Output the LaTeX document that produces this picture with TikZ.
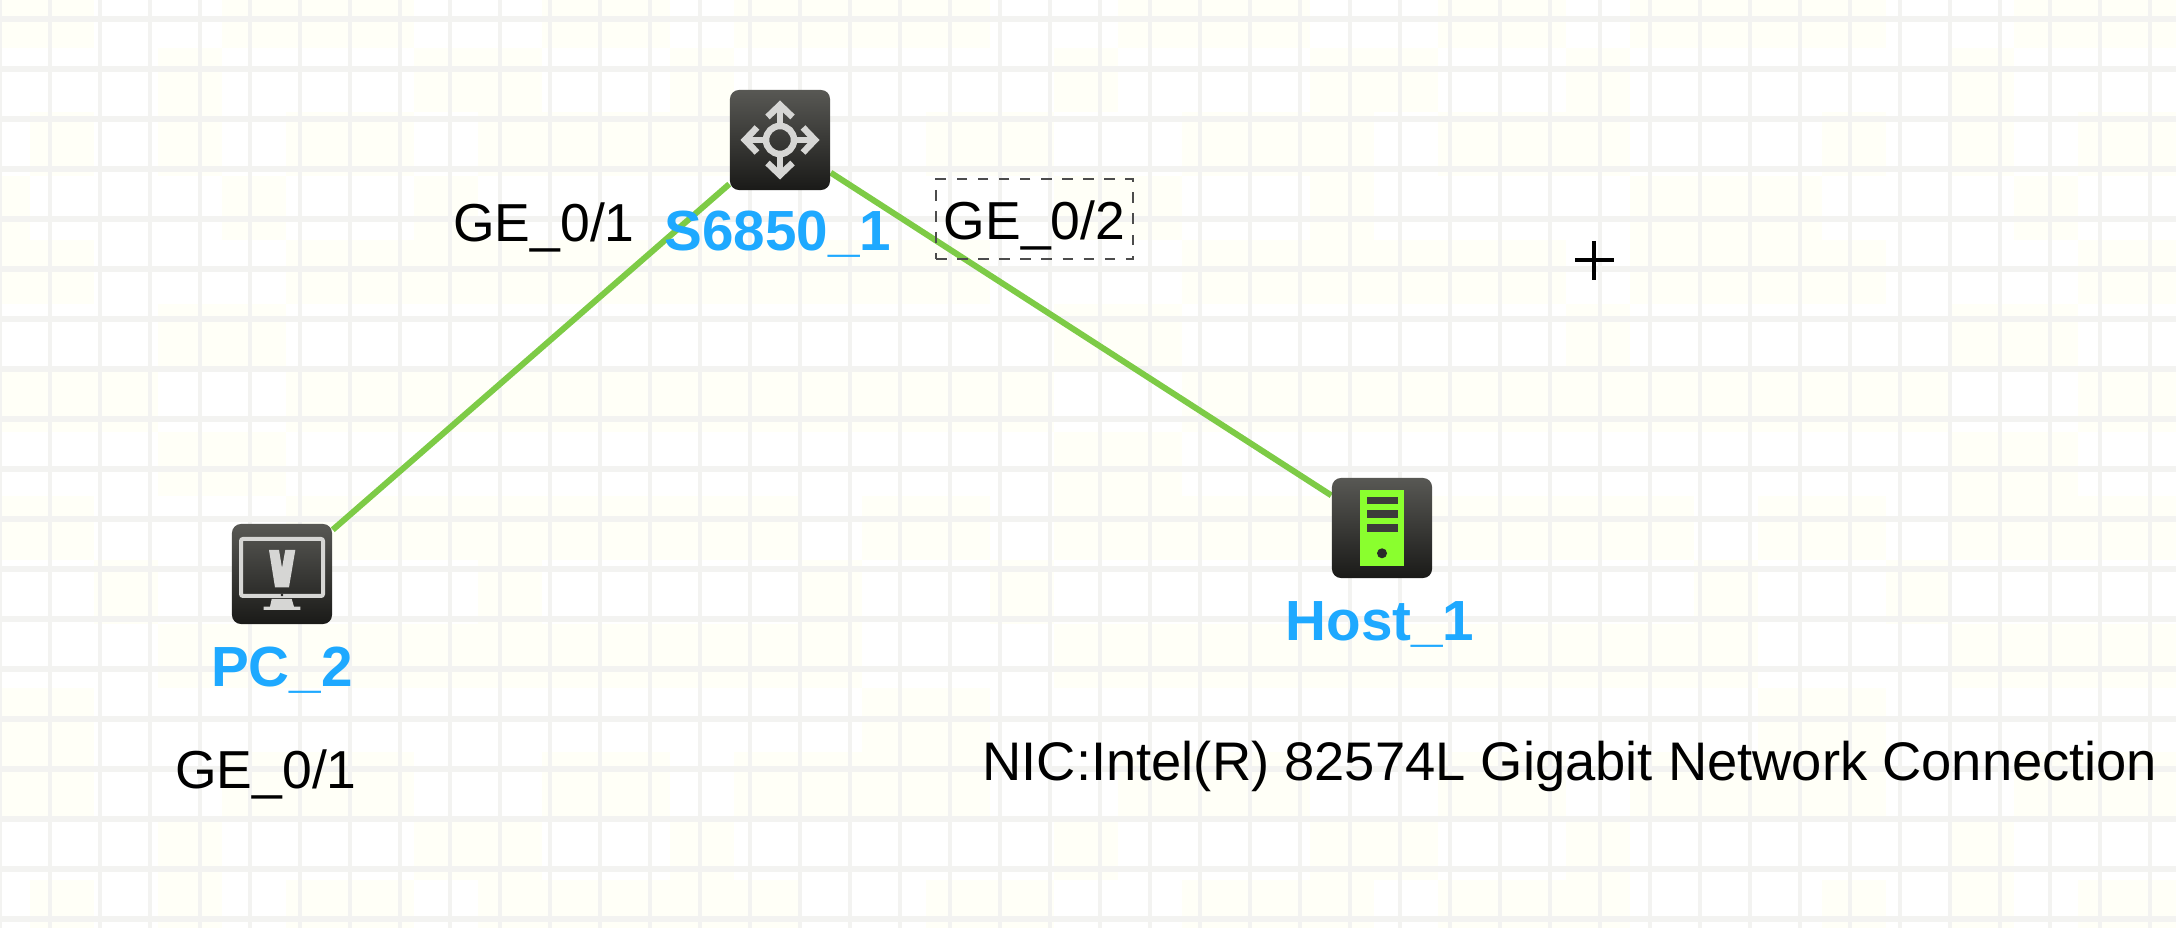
\documentclass[tikz,border=0pt]{standalone}
\usepackage{fontspec}
\setmainfont{Liberation Sans}
\usepackage{xcolor}
\definecolor{LinkGreen}{RGB}{125,203,70}
\definecolor{LabelBlue}{RGB}{30,169,255}
\definecolor{PaperYellow}{RGB}{255,255,247}
\definecolor{GridGrey}{RGB}{243,243,241}
\definecolor{IconTop}{RGB}{88,88,84}
\definecolor{IconBottom}{RGB}{26,26,24}
\definecolor{GlyphGrey}{RGB}{214,214,212}
\definecolor{ServerGreen}{RGB}{138,255,46}
\definecolor{SlotGrey}{RGB}{60,60,58}
\usetikzlibrary{backgrounds}
\tikzset{
  iconbox/.style={rectangle, rounded corners=0.09cm, minimum size=1cm, inner sep=0pt,
    top color=IconTop, bottom color=IconBottom},
  portlabel/.style={anchor=base, inner sep=0pt, text=black, font=\fontsize{15.2}{18}\selectfont},
  devlabel/.style={anchor=base, inner sep=0pt, text=LabelBlue, font=\fontsize{16.1}{18}\selectfont\bfseries},
  linkline/.style={LinkGreen, line width=0.06cm},
  glyph/.style={GlyphGrey, line width=0.065cm, miter limit=10}
}
\begin{document}
\begin{tikzpicture}[x=0.01cm, y=-0.01cm]
    \useasboundingbox (0,0) rectangle (2176,928);

    % Paper and grid
    \begin{scope}[on background layer]
    \fill[white] (0,0) rectangle (2176,928);
    \clip (0,0) rectangle (2176,928);
    \foreach \rowtop/\cells in {
        -16/{-34/94,222/414,542/670,734/990,1118/1310,1438/1566,1630/1886,2014/2176},
        48/{158/222,414/542,670/734,1054/1118,1310/1438,1566/1630,1950/2014},
        112/{30/94,158/222,286/414,478/798,926/1054,1182/1374,1438/1630,1822/1886,1950/2014,2078/2176},
        176/{-34/30,222/286,414/478,1054/1182,1310/1374,1630/1822,2014/2078},
        240/{-34/94,286/990,1182/1566,1630/1886,2078/2176},
        304/{158/286,1054/1182,1566/1630,1950/2078},
        368/{-34/158,286/1054,1182/1950,2078/2176},
        432/{158/286,1054/1182,1950/2078},
        496/{-34/94,286/798,862/990,1054/1694,1758/1886,1950/2176},
        560/{94/158,478/542,798/862,990/1054,1694/1758,1886/1950},
        624/{158/862,1054/1758,1950/2176},
        688/{-34/94,862/990,1758/1886},
        752/{-34/94,222/414,542/670,734/990,1118/1310,1438/1566,1630/1886,2014/2176},
        816/{158/222,414/542,670/734,1054/1118,1310/1438,1566/1630,1950/2014},
        880/{30/94,158/222,286/414,478/798,926/1054,1182/1374,1438/1630,1822/1886,1950/2014,2078/2176}}
    {
        \foreach \xa/\xb in \cells
            \fill[PaperYellow] (\xa,\rowtop) rectangle (\xb,\rowtop+64);
    }
    \foreach \i in {0,50,...,2150}
        \draw[GridGrey, line width=0.04cm] (\i,0) -- (\i,928);
    \foreach \j in {19,69,...,919}
        \draw[GridGrey, line width=0.06cm] (0,\j) -- (2176,\j);
    \end{scope}

    % Devices
    \node[iconbox] (sw) at (780,140) {};
    \node[iconbox] (pc) at (282,574) {};
    \node[iconbox] (host) at (1382,528) {};

    % Links
    \begin{scope}[on background layer]
    \draw[linkline] (pc) -- (sw);
    \draw[linkline] (sw) -- (host);
    \end{scope}

    % Switch glyph
    \begin{scope}[shift={(sw.center)}]
    \draw[glyph] (0,0) circle (14);
    \foreach \a in {0,90,180,270} {
        \draw[glyph, rotate=\a] (14,0) -- (35,0);
        \draw[glyph, rotate=\a] (23,-12.5) -- (35,0) -- (23,12.5);
    }
    \end{scope}

    % PC glyph
    \begin{scope}[shift={(pc.center)}]
    \draw[GlyphGrey, line width=0.04cm, rounded corners=0.02cm] (-41,-35) rectangle (41,22);
    \fill[GlyphGrey] (-13,-24) -- (-3,-24) -- (0,-6) -- (3.3,-24) -- (13.3,-24) -- (7,13.3) -- (-7,13.3) -- cycle;
    \fill[IconBottom] (0,21) circle (1.3);
    \fill[GlyphGrey] (-10.3,25) -- (9.7,25) -- (12,32.7) -- (18.3,32.7) -- (18.3,36) -- (-18.3,36)
        -- (-18.3,32.7) -- (-12,32.7) -- cycle;
    \end{scope}

    % Host glyph
    \begin{scope}[shift={(host.center)}]
    \fill[ServerGreen] (-22,-37.5) rectangle (22,38);
    \foreach \s in {-31.3,-17.7,-4}
        \fill[SlotGrey] (-15.5,\s) rectangle (15.5,\s+7.7);
    \fill[SlotGrey!70!black] (0,25.3) circle (5);
    \end{scope}

    % Device names
    \node[devlabel] (swname) at (778,251) {S6850\_1};
    \node[devlabel] (pcname) at (282,686) {PC\_2};
    \node[devlabel] (hostname) at (1380,641) {Host\_1};

    % Port labels
    \node[portlabel] (swport1) at (544,242) {GE\_0/1};
    \node[portlabel] (pcport1) at (266,788) {GE\_0/1};
    \node[portlabel, font=\fontsize{15.45}{18}\selectfont] (nic) at (1570,781) {NIC:Intel(R) 82574L Gigabit Network Connection};
    \node[portlabel, anchor=center, draw=black!70, dashed, line width=0.015cm, text height=0.6cm, text depth=0.2cm,
        minimum width=1.97cm, minimum height=0.8cm] (swport2) at (1034.5,219) {GE\_0/2};

    % Cursor
    \coordinate (cursor) at (1594,260.5);
    \draw[black, line width=0.04cm] ([xshift=-0.19cm]cursor) -- ([xshift=0.2cm]cursor);
    \draw[black, line width=0.04cm] ([yshift=0.195cm]cursor) -- ([yshift=-0.195cm]cursor);
\end{tikzpicture}
\end{document}
